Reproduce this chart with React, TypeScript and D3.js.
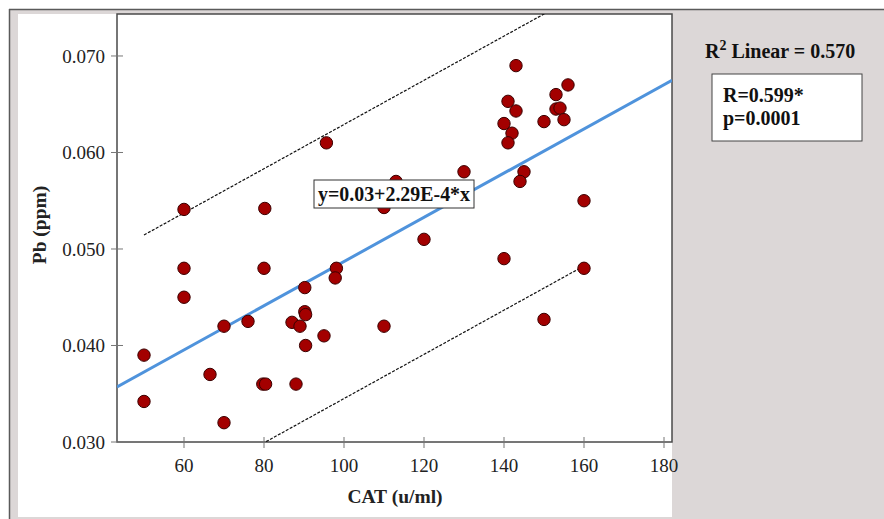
import React from "react";
import * as d3 from "d3";

const catValues = [
  50, 50, 60, 60, 60, 66.5, 70, 70, 76, 80, 79.7, 80.4, 80.2, 88, 87, 89, 90.2, 90.2, 90.4, 90.4,
  95, 98.1, 97.8, 95.6, 110, 110, 113, 120, 130, 140, 160, 150, 143, 141, 143, 140, 142, 141,
  156, 153, 153, 154, 155, 150, 145, 144, 160,
];
const pbValues = [
  0.039, 0.0342, 0.048, 0.045, 0.0541, 0.037, 0.042, 0.032, 0.0425, 0.048, 0.036, 0.036, 0.0542,
  0.036, 0.0424, 0.042, 0.046, 0.0435, 0.0432, 0.04, 0.041, 0.048, 0.047, 0.061, 0.042, 0.0543,
  0.057, 0.051, 0.058, 0.049, 0.048, 0.0427, 0.069, 0.0653, 0.0643, 0.063, 0.062, 0.061, 0.067,
  0.066, 0.0645, 0.0646, 0.0634, 0.0632, 0.058, 0.057, 0.055,
];
const fitCoef = [0.0258, 2.29e-4]; // intercept, slope (as drawn)
const predictionRange = [50, 160];
const predictionHalfWidth = 0.0142;
const xTicks = [60, 80, 100, 120, 140, 160, 180];
const yTicks = [0.03, 0.04, 0.05, 0.06, 0.07];
const xDomain = [43.25, 182];
const yDomain = [0.03, 0.07435];

const W = 884;
const H = 519;
const plot = { left: 117, right: 672, top: 14, bottom: 442 };
const font = "'Liberation Serif', 'Times New Roman', serif";

export default function App() {
  const x = d3.scaleLinear().domain(xDomain).range([plot.left, plot.right]);
  const y = d3.scaleLinear().domain(yDomain).range([plot.bottom, plot.top]);
  const line = d3
    .line<[number, number]>()
    .x((d) => x(d[0]))
    .y((d) => y(d[1]));
  const fit = (v: number) => fitCoef[0] + fitCoef[1] * v;
  const fitPts: [number, number][] = xDomain.map((v) => [v, fit(v)]);
  const upperPts: [number, number][] = predictionRange.map((v) => [v, fit(v) + predictionHalfWidth]);
  const lowerPts: [number, number][] = predictionRange.map((v) => [v, fit(v) - predictionHalfWidth]);

  return (
    <svg
      width={W}
      height={H}
      style={{ position: "absolute", left: 0, top: 0, display: "block" }}
      fontFamily={font}
    >
      <defs>
        <clipPath id="plotClip">
          <rect x={plot.left} y={plot.top} width={plot.right - plot.left} height={plot.bottom - plot.top} />
        </clipPath>
      </defs>
      <rect x={0} y={0} width={W} height={H} fill="#ffffff" />
      <rect x={9} y={9} width={W - 9} height={H - 9} fill="#dcd7d7" />
      <line x1={9} y1={9.5} x2={W} y2={9.5} stroke="#5a5a5a" strokeWidth={1.5} />
      <line x1={9.5} y1={9} x2={9.5} y2={H} stroke="#5a5a5a" strokeWidth={1.5} />
      <rect x={18} y={14} width={plot.right - 18} height={503} fill="#ffffff" />

      {/* plot area */}
      <rect
        x={plot.left}
        y={plot.top}
        width={plot.right - plot.left}
        height={plot.bottom - plot.top}
        fill="#ffffff"
        stroke="#4a4a4a"
        strokeWidth={1.5}
      />

      {/* y ticks */}
      {yTicks.map((t) => (
        <g key={"y" + t}>
          <line x1={plot.left - 6} x2={plot.left + 6} y1={y(t)} y2={y(t)} stroke="#777" strokeWidth={1} />
          <text x={105} y={y(t)} dy="0.35em" textAnchor="end" fontSize={19} fill="#222">
            {d3.format(".3f")(t)}
          </text>
        </g>
      ))}
      {/* x ticks */}
      {xTicks.map((t) => (
        <g key={"x" + t}>
          <line x1={x(t)} x2={x(t)} y1={plot.bottom - 5} y2={plot.bottom + 6} stroke="#777" strokeWidth={1} />
          <text x={x(t)} y={472} textAnchor="middle" fontSize={19} fill="#222">
            {t}
          </text>
        </g>
      ))}

      <g clipPath="url(#plotClip)">
        <path d={line(upperPts) || ""} fill="none" stroke="#111" strokeWidth={1.2} strokeDasharray="3,1.5" />
        <path d={line(lowerPts) || ""} fill="none" stroke="#111" strokeWidth={1.2} strokeDasharray="3,1.5" />
        <path d={line(fitPts) || ""} fill="none" stroke="#4f93dc" strokeWidth={3} />
        {catValues.map((c, i) => (
          <circle
            key={i}
            cx={x(c)}
            cy={y(pbValues[i])}
            r={6.2}
            fill="#a30000"
            stroke="#3a0000"
            strokeWidth={1}
          />
        ))}
      </g>

      {/* equation label */}
      <rect x={314} y={180} width={160} height={28} fill="#ffffff" stroke="#333" strokeWidth={1} />
      <text x={394} y={201} textAnchor="middle" fontSize={20} fontWeight="bold" fill="#111" textLength={152} lengthAdjust="spacingAndGlyphs">
        y=0.03+2.29E-4*x
      </text>

      {/* axis titles */}
      <text x={395} y={503} textAnchor="middle" fontSize={19.5} fontWeight="bold" fill="#222">
        CAT (u/ml)
      </text>
      <text
        transform="translate(46,225) rotate(-90)"
        textAnchor="middle"
        fontSize={19.5}
        fontWeight="bold"
        fill="#222"
      >
        Pb (ppm)
      </text>

      {/* R² annotation */}
      <text x={705} y={58} fontSize={20} fontWeight="bold" fill="#111">
        R<tspan dy={-8} fontSize={14}>2</tspan>
        <tspan dy={8}> Linear = 0.570</tspan>
      </text>
      <rect x={712} y={74} width={150} height={67} fill="#ffffff" stroke="#444" strokeWidth={1} />
      <text x={723} y={102} fontSize={20} fontWeight="bold" fill="#111">
        R=0.599*
      </text>
      <text x={723} y={125} fontSize={20} fontWeight="bold" fill="#111">
        p=0.0001
      </text>
    </svg>
  );
}
